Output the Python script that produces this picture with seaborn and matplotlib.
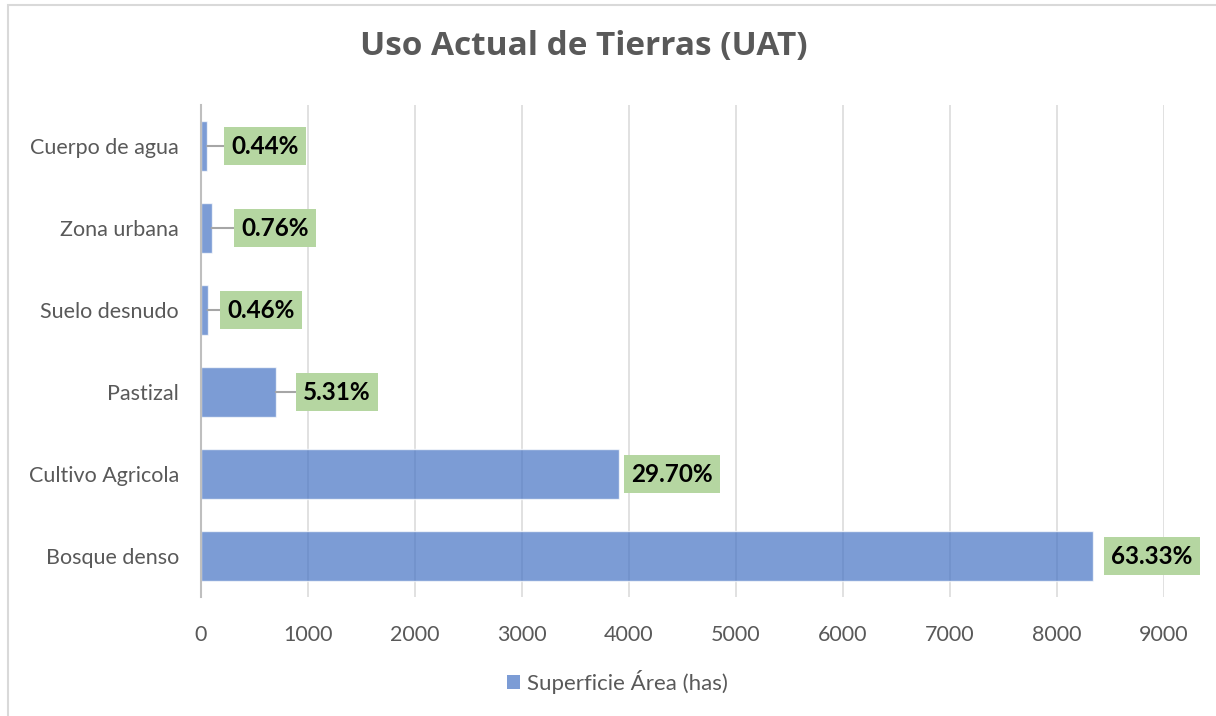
import matplotlib.pyplot as plt
import matplotlib.patches as mpatches
import pandas as pd
import seaborn as sns

sns.set_theme(style="white")
plt.rcParams["font.family"] = ["Lato", "DejaVu Sans"]

categories = ["Cuerpo de agua", "Zona urbana", "Suelo desnudo", "Pastizal", "Cultivo Agricola", "Bosque denso"]
area_has = [58, 100, 61, 699, 3909, 8336]
pct_labels = ["0.44%", "0.76%", "0.46%", "5.31%", "29.70%", "63.33%"]
# label box offset from bar end (pixels) and whether a leader line is drawn
label_offset = [17, 23, 13, 20, 5, 11]
leader = [True, True, True, True, False, False]

df = pd.DataFrame({"uso": categories, "area": area_has})

BLUE = "#4472C4"
GREEN = "#B5D6A1"
GREY_TXT = "#595959"

fig = plt.figure(figsize=(12.16, 7.16), dpi=100)
ax = fig.add_axes([201 / 1216, 1 - 597 / 716, (1164 - 201) / 1216, (597 - 105) / 716])

sns.barplot(data=df, x="area", y="uso", orient="h", color=BLUE, alpha=0.7,
            width=0.61, saturation=1, ax=ax)

ax.set_xlim(0, 9000)
ax.set_xticks(range(0, 9001, 1000))
ax.grid(axis="x", color="#DCDCDC", lw=1.2)
ax.set_axisbelow(True)
for s in ["top", "right", "bottom"]:
    ax.spines[s].set_visible(False)
ax.spines["left"].set_color("#BFBFBF")
ax.spines["left"].set_linewidth(1.5)
ax.set(xlabel="", ylabel="")
ax.tick_params(axis="both", length=0, labelsize=15.5, labelcolor=GREY_TXT)
ax.tick_params(axis="x", pad=20)
ax.tick_params(axis="y", pad=16)

for i, (v, lab) in enumerate(zip(area_has, pct_labels)):
    arrow = dict(arrowstyle="-", color="#A6A6A6", lw=1.5, shrinkA=0, shrinkB=0) if leader[i] else None
    ax.annotate(lab, xy=(v, i), xytext=(label_offset[i] + 7, 0), textcoords="offset pixels",
                ha="left", va="center", fontsize=17.5, fontweight="bold", color="black",
                bbox=dict(boxstyle="square,pad=0.3", fc=GREEN, ec="none"),
                arrowprops=arrow, annotation_clip=False)

fig.text(584 / 1216, 1 - 47 / 716, "Uso Actual de Tierras (UAT)", ha="center", va="center",
         fontsize=24, fontweight="bold", color=GREY_TXT, family=["Open Sans", "DejaVu Sans"])

handle = mpatches.Patch(fc=BLUE, alpha=0.7, ec="none", label="Superficie Área (has)")
fig.legend(handles=[handle], loc="center", bbox_to_anchor=(617 / 1216, 1 - 682 / 716),
           frameon=False, fontsize=16, labelcolor=GREY_TXT, handlelength=0.6,
           handleheight=0.6, handletextpad=0.3)

fig.patches.append(mpatches.Rectangle((8 / 1216, -0.1), 2, 1.1 - 5 / 716, transform=fig.transFigure,
                                      fill=False, ec="#D9D9D9", lw=1.5))

fig.savefig("out.png", dpi=100)
